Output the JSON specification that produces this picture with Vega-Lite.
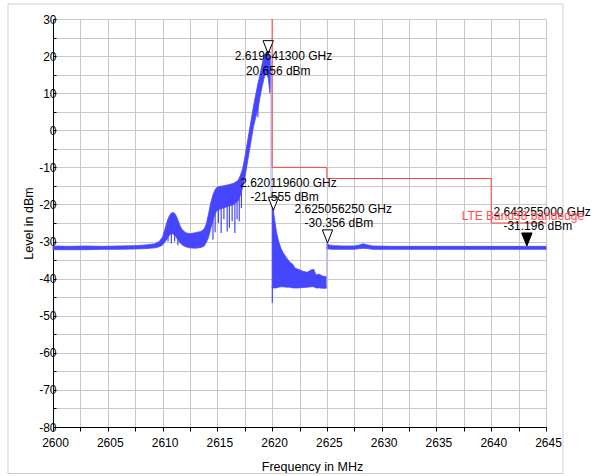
{
  "$schema": "https://vega.github.io/schema/vega-lite/v6.json",
  "width": 493,
  "height": 408,
  "autosize": {"type": "none"},
  "padding": {"left": 53, "top": 19, "right": 49, "bottom": 49},
  "background": "white",
  "config": {
    "view": {"stroke": null},
    "font": "Liberation Sans",
    "axis": {
      "gridColor": "#c8c8c8",
      "gridWidth": 1,
      "gridOpacity": 1,
      "domainColor": "#000000",
      "domainWidth": 1,
      "tickColor": "#000000",
      "labelColor": "#000000",
      "labelFont": "Liberation Sans",
      "labelFontSize": 12,
      "titleFont": "Liberation Sans",
      "titleFontSize": 12.5,
      "titleFontWeight": "normal",
      "titleColor": "#000000",
      "labelFlush": false,
      "labelOverlap": false
    }
  },
  "datasets": {
    "frame": [{"f": 2595.89, "f2": 2646.55, "v": 34.04, "v2": -92.54}],
    "trace": [
      {"seg": 1, "f": 2600.0, "v": -31.2, "v2": -32.2},
      {"seg": 1, "f": 2601.5, "v": -31.3, "v2": -32.2},
      {"seg": 1, "f": 2603.0, "v": -31.2, "v2": -32.2},
      {"seg": 1, "f": 2604.5, "v": -31.3, "v2": -32.1},
      {"seg": 1, "f": 2606.0, "v": -31.2, "v2": -32.1},
      {"seg": 1, "f": 2607.5, "v": -31.1, "v2": -32.0},
      {"seg": 1, "f": 2608.5, "v": -30.9, "v2": -31.9},
      {"seg": 1, "f": 2609.3, "v": -30.6, "v2": -31.7},
      {"seg": 1, "f": 2609.7, "v": -30.0, "v2": -31.4},
      {"seg": 1, "f": 2610.0, "v": -28.8, "v2": -30.9},
      {"seg": 1, "f": 2610.2, "v": -26.8, "v2": -30.2},
      {"seg": 1, "f": 2610.4, "v": -24.8, "v2": -29.3},
      {"seg": 1, "f": 2610.6, "v": -23.2, "v2": -28.4},
      {"seg": 1, "f": 2610.8, "v": -22.3, "v2": -27.8},
      {"seg": 1, "f": 2611.0, "v": -22.2, "v2": -28.0},
      {"seg": 1, "f": 2611.2, "v": -22.8, "v2": -28.6},
      {"seg": 1, "f": 2611.4, "v": -24.2, "v2": -29.6},
      {"seg": 1, "f": 2611.6, "v": -25.8, "v2": -30.3},
      {"seg": 1, "f": 2611.8, "v": -26.8, "v2": -30.9},
      {"seg": 1, "f": 2612.1, "v": -27.6, "v2": -31.4},
      {"seg": 1, "f": 2612.5, "v": -27.9, "v2": -31.7},
      {"seg": 1, "f": 2613.0, "v": -27.6, "v2": -31.8},
      {"seg": 1, "f": 2613.5, "v": -27.3, "v2": -31.6},
      {"seg": 1, "f": 2613.8, "v": -26.6, "v2": -31.2},
      {"seg": 1, "f": 2614.0, "v": -25.2, "v2": -30.2},
      {"seg": 1, "f": 2614.2, "v": -22.5, "v2": -28.8},
      {"seg": 1, "f": 2614.4, "v": -19.6, "v2": -26.5},
      {"seg": 1, "f": 2614.6, "v": -17.4, "v2": -24.2},
      {"seg": 1, "f": 2614.8, "v": -16.0, "v2": -22.5},
      {"seg": 1, "f": 2615.0, "v": -15.3, "v2": -21.5},
      {"seg": 1, "f": 2615.5, "v": -15.0, "v2": -21.0},
      {"seg": 1, "f": 2616.0, "v": -14.7, "v2": -20.5},
      {"seg": 1, "f": 2616.5, "v": -14.3, "v2": -20.0},
      {"seg": 1, "f": 2616.9, "v": -13.5, "v2": -19.0},
      {"seg": 1, "f": 2617.1, "v": -12.2, "v2": -17.5},
      {"seg": 1, "f": 2617.3, "v": -10.5, "v2": -15.5},
      {"seg": 1, "f": 2617.5, "v": -7.5, "v2": -13.0},
      {"seg": 1, "f": 2617.7, "v": -4.0, "v2": -9.5},
      {"seg": 1, "f": 2617.9, "v": -0.5, "v2": -6.0},
      {"seg": 1, "f": 2618.1, "v": 3.0, "v2": -2.5},
      {"seg": 1, "f": 2618.3, "v": 6.5, "v2": 1.0},
      {"seg": 1, "f": 2618.5, "v": 9.5, "v2": 3.5},
      {"seg": 1, "f": 2618.7, "v": 12.5, "v2": 5.5},
      {"seg": 1, "f": 2618.9, "v": 15.0, "v2": 9.0},
      {"seg": 1, "f": 2619.1, "v": 18.0, "v2": 12.0},
      {"seg": 1, "f": 2619.3, "v": 20.3, "v2": 14.5},
      {"seg": 1, "f": 2619.5, "v": 21.0, "v2": 15.5},
      {"seg": 1, "f": 2619.65, "v": 20.8, "v2": 14.0},
      {"seg": 1, "f": 2619.8, "v": 19.5, "v2": 10.0},
      {"seg": 1, "f": 2619.88, "v": 18.0, "v2": 12.0},
      {"seg": 2, "f": 2620.0, "v": -20.5, "v2": -42.5},
      {"seg": 2, "f": 2620.1, "v": -21.5, "v2": -42.5},
      {"seg": 2, "f": 2620.25, "v": -24.5, "v2": -42.5},
      {"seg": 2, "f": 2620.4, "v": -27.5, "v2": -42.5},
      {"seg": 2, "f": 2620.6, "v": -30.0, "v2": -42.3},
      {"seg": 2, "f": 2620.8, "v": -31.8, "v2": -42.2},
      {"seg": 2, "f": 2621.0, "v": -33.0, "v2": -42.2},
      {"seg": 2, "f": 2621.3, "v": -34.3, "v2": -42.3},
      {"seg": 2, "f": 2621.6, "v": -35.5, "v2": -42.3},
      {"seg": 2, "f": 2621.9, "v": -36.2, "v2": -42.5},
      {"seg": 2, "f": 2622.1, "v": -37.2, "v2": -42.5},
      {"seg": 2, "f": 2622.4, "v": -37.5, "v2": -42.5},
      {"seg": 2, "f": 2622.8, "v": -38.0, "v2": -42.4},
      {"seg": 2, "f": 2623.2, "v": -38.3, "v2": -42.3},
      {"seg": 2, "f": 2623.6, "v": -37.6, "v2": -42.2},
      {"seg": 2, "f": 2623.8, "v": -37.5, "v2": -42.2},
      {"seg": 2, "f": 2624.0, "v": -39.0, "v2": -42.5},
      {"seg": 2, "f": 2624.3, "v": -38.8, "v2": -42.5},
      {"seg": 2, "f": 2624.6, "v": -39.3, "v2": -42.6},
      {"seg": 2, "f": 2624.95, "v": -39.5, "v2": -42.6},
      {"seg": 3, "f": 2625.0, "v": -30.4, "v2": -32.0},
      {"seg": 3, "f": 2625.2, "v": -30.9, "v2": -32.0},
      {"seg": 3, "f": 2625.6, "v": -31.1, "v2": -32.1},
      {"seg": 3, "f": 2626.5, "v": -31.2, "v2": -32.1},
      {"seg": 3, "f": 2627.5, "v": -31.2, "v2": -32.1},
      {"seg": 3, "f": 2628.0, "v": -30.9, "v2": -31.9},
      {"seg": 3, "f": 2628.3, "v": -30.6, "v2": -31.8},
      {"seg": 3, "f": 2628.7, "v": -30.9, "v2": -31.9},
      {"seg": 3, "f": 2629.2, "v": -31.2, "v2": -32.1},
      {"seg": 3, "f": 2631.0, "v": -31.3, "v2": -32.1},
      {"seg": 3, "f": 2634.0, "v": -31.3, "v2": -32.1},
      {"seg": 3, "f": 2637.0, "v": -31.3, "v2": -32.1},
      {"seg": 3, "f": 2640.0, "v": -31.3, "v2": -32.1},
      {"seg": 3, "f": 2643.0, "v": -31.3, "v2": -32.1},
      {"seg": 3, "f": 2645.0, "v": -31.3, "v2": -32.1}
    ],
    "spikes": [
      {"f": 2610.5, "v": -24.0, "v2": -30.0},
      {"f": 2610.8, "v": -23.0, "v2": -30.5},
      {"f": 2611.1, "v": -23.0, "v2": -30.0},
      {"f": 2611.4, "v": -25.0, "v2": -31.0},
      {"f": 2614.6, "v": -22.0, "v2": -29.5},
      {"f": 2614.8, "v": -20.0, "v2": -27.5},
      {"f": 2615.1, "v": -17.0, "v2": -25.0},
      {"f": 2615.35, "v": -16.0, "v2": -27.7},
      {"f": 2615.6, "v": -16.0, "v2": -24.0},
      {"f": 2615.9, "v": -16.0, "v2": -27.3},
      {"f": 2616.1, "v": -16.0, "v2": -26.3},
      {"f": 2616.35, "v": -16.0, "v2": -24.5},
      {"f": 2616.6, "v": -15.0, "v2": -27.7},
      {"f": 2616.8, "v": -15.0, "v2": -24.0},
      {"f": 2617.0, "v": -14.0, "v2": -24.5},
      {"f": 2617.2, "v": -13.0, "v2": -21.0},
      {"f": 2618.7, "v": 10.0, "v2": 3.5},
      {"f": 2620.02, "v": -42.0, "v2": -46.5}
    ],
    "links": [
      {"f": 2619.9, "v": 19.0, "v2": -20.5},
      {"f": 2625.0, "v": -30.4, "v2": -42.0}
    ],
    "limit": [
      {"i": 1, "f": 2620, "v": 30},
      {"i": 2, "f": 2620, "v": -10},
      {"i": 3, "f": 2625, "v": -10},
      {"i": 4, "f": 2625, "v": -13},
      {"i": 5, "f": 2640, "v": -13},
      {"i": 6, "f": 2640, "v": -25},
      {"i": 7, "f": 2645, "v": -25}
    ],
    "markers": [
      {"f": 2619.6413, "v": 20.656, "kind": "hollow"},
      {"f": 2620.1196, "v": -21.555, "kind": "hollow"},
      {"f": 2625.05625, "v": -30.356, "kind": "hollow"},
      {"f": 2643.255, "v": -31.196, "kind": "solid"}
    ],
    "labels": [
      {"f": 2621.04, "v": 20.02, "text": "2.619641300 GHz"},
      {"f": 2620.56, "v": 15.98, "text": "20.656 dBm"},
      {"f": 2621.49, "v": -14.3, "text": "2.620119600 GHz"},
      {"f": 2621.13, "v": -18.07, "text": "-21.555 dBm"},
      {"f": 2626.49, "v": -21.31, "text": "2.625056250 GHz"},
      {"f": 2626.1, "v": -24.92, "text": "-30.356 dBm"},
      {"f": 2644.65, "v": -21.96, "text": "2.643255000 GHz"},
      {"f": 2644.25, "v": -25.81, "text": "-31.196 dBm"}
    ],
    "limitlabel": [
      {"f": 2637.3, "v": -23.0, "text": "LTE Band38  bandedge"}
    ]
  },
  "encoding": {
    "x": {
      "field": "f", "type": "quantitative",
      "scale": {"domain": [2600, 2645], "nice": false, "zero": false},
      "axis": {
        "values": [2600, 2602.5, 2605, 2607.5, 2610, 2612.5, 2615, 2617.5, 2620, 2622.5, 2625, 2627.5, 2630, 2632.5, 2635, 2637.5, 2640, 2642.5, 2645],
        "labelExpr": "datum.value % 5 == 0 ? '' + datum.value : ''",
        "grid": true,
        "tickSize": 4,
        "labelPadding": 6,
        "labelOffset": 2,
        "title": "Frequency in MHz",
        "titlePadding": 12,
        "titleX": 259
      }
    },
    "y": {
      "field": "v", "type": "quantitative",
      "scale": {"domain": [-80, 30], "nice": false, "zero": false},
      "axis": {
        "values": [-80, -75, -70, -65, -60, -55, -50, -45, -40, -35, -30, -25, -20, -15, -10, -5, 0, 5, 10, 15, 20, 25, 30],
        "labelExpr": "datum.value % 10 == 0 ? '' + datum.value : ''",
        "grid": true,
        "tickSize": -3,
        "labelPadding": 0,
        "title": "Level in dBm",
        "titlePadding": 3
      }
    }
  },
  "layer": [
    {
      "data": {"name": "frame"},
      "mark": {"type": "rect", "fillOpacity": 0, "stroke": "#d0d0d0", "strokeWidth": 1},
      "encoding": {
        "x2": {"field": "f2"},
        "y2": {"field": "v2"}
      }
    },
    {
      "data": {"name": "trace"},
      "mark": {"type": "area", "color": "#4646ff", "stroke": "#4646ff", "strokeWidth": 0.8, "opacity": 1},
      "encoding": {
        "y2": {"field": "v2"},
        "detail": {"field": "seg"}
      }
    },
    {
      "data": {"name": "spikes"},
      "mark": {"type": "rule", "color": "#4646ff", "strokeWidth": 1.2},
      "encoding": {
        "y2": {"field": "v2"}
      }
    },
    {
      "data": {"name": "links"},
      "mark": {"type": "rule", "color": "#a8a8ff", "strokeWidth": 1},
      "encoding": {
        "y2": {"field": "v2"}
      }
    },
    {
      "data": {"name": "limit"},
      "mark": {"type": "line", "color": "#ff4040", "strokeWidth": 1},
      "encoding": {
        "order": {"field": "i"}
      }
    },
    {
      "data": {"name": "markers"},
      "mark": {"type": "point", "shape": "M-0.4,-1L0.4,-1L0,0Z", "size": 676, "filled": true, "stroke": "#000000", "strokeWidth": 1, "opacity": 1},
      "encoding": {
        "fill": {"field": "kind", "type": "nominal", "scale": {"domain": ["hollow", "solid"], "range": ["#ffffff", "#000000"]}, "legend": null}
      }
    },
    {
      "data": {"name": "labels"},
      "mark": {"type": "text", "align": "center", "baseline": "middle", "fontSize": 12, "font": "Liberation Sans", "color": "#000000"},
      "encoding": {
        "text": {"field": "text"}
      }
    },
    {
      "data": {"name": "limitlabel"},
      "mark": {"type": "text", "align": "left", "baseline": "middle", "fontSize": 12, "font": "Liberation Sans", "color": "#ff5050"},
      "encoding": {
        "text": {"field": "text"}
      }
    }
  ]
}
